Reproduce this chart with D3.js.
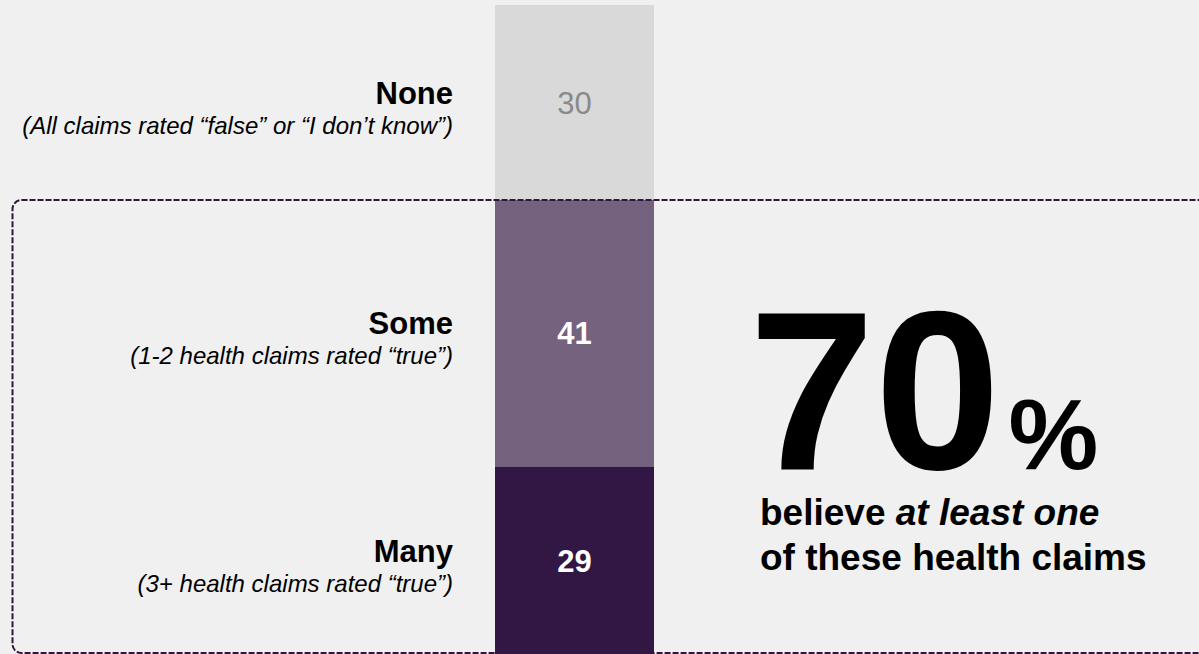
<!DOCTYPE html>
<html>
<head>
<meta charset="utf-8">
<script src="https://cdn.jsdelivr.net/npm/d3@7"></script>
<style>
  html, body { margin: 0; padding: 0; background: #f0f0f0; }
  svg { display: block; }
  text { font-family: "Liberation Sans", Arial, sans-serif; }
</style>
</head>
<body>
<svg id="chart" width="1199" height="654"></svg>
<script>
const categories = ["None", "Some", "Many"];
const subtitles = [
  "(All claims rated \u201cfalse\u201d or \u201cI don\u2019t know\u201d)",
  "(1-2 health claims rated \u201ctrue\u201d)",
  "(3+ health claims rated \u201ctrue\u201d)"
];
const values = [30, 41, 29];
const colors = ["#d9d9d9", "#75627f", "#321644"];
const valueColors = ["#8a8a8a", "#ffffff", "#ffffff"];
const valueWeights = ["normal", "bold", "bold"];
const bigNumber = "70";
const bigLine1 = ["believe ", "at least one"];
const bigLine2 = "of these health claims";

const W = 1199, H = 654;
const svg = d3.select("#chart");

const total = d3.sum(values);
const y = d3.scaleLinear().domain([0, total]).range([5, 655]);
const x = d3.scaleBand().domain(["all"]).range([495, 654]).padding(0);

let cum = 0;
const segs = values.map((v, i) => {
  const s = { cat: categories[i], sub: subtitles[i], v, y0: cum, y1: cum + v, i };
  cum += v;
  return s;
});

// bars
svg.selectAll("rect.seg").data(segs).join("rect")
  .attr("class", "seg")
  .attr("x", x("all"))
  .attr("width", x.bandwidth())
  .attr("y", d => y(d.y0))
  .attr("height", d => y(d.y1) - y(d.y0))
  .attr("fill", d => colors[d.i]);

// dashed rounded box around the "believe" segments
const boxTop = y(values[0]);
svg.append("rect")
  .attr("x", 12.5)
  .attr("y", boxTop)
  .attr("width", W + 20)
  .attr("height", 653 - boxTop)
  .attr("rx", 9)
  .attr("fill", "none")
  .attr("stroke", "#32163f")
  .attr("stroke-width", 2)
  .attr("stroke-dasharray", "6,2");

// value labels
svg.selectAll("text.val").data(segs).join("text")
  .attr("class", "val")
  .attr("x", x("all") + x.bandwidth() / 2)
  .attr("y", d => (y(d.y0) + y(d.y1)) / 2 + 11)
  .attr("text-anchor", "middle")
  .attr("font-size", 31)
  .attr("font-weight", d => valueWeights[d.i])
  .attr("fill", d => valueColors[d.i])
  .text(d => d.v);

// category labels
svg.selectAll("text.cat").data(segs).join("text")
  .attr("class", "cat")
  .attr("x", 453)
  .attr("y", d => (y(d.y0) + y(d.y1)) / 2 + 1)
  .attr("text-anchor", "end")
  .attr("font-size", 31)
  .attr("font-weight", "bold")
  .attr("fill", "#000")
  .text(d => d.cat);

svg.selectAll("text.sub").data(segs).join("text")
  .attr("class", "sub")
  .attr("x", 453)
  .attr("y", d => (y(d.y0) + y(d.y1)) / 2 + 31)
  .attr("text-anchor", "end")
  .attr("font-size", 24)
  .attr("font-style", "italic")
  .attr("fill", "#000")
  .text(d => d.sub);

// big callout
const big = svg.append("text")
  .attr("x", 749)
  .attr("y", 469)
  .attr("font-weight", "bold")
  .attr("fill", "#000");
big.append("tspan").attr("font-size", 226).text(bigNumber);
big.append("tspan").attr("font-size", 101).attr("dx", 8).text("%");

const l1 = svg.append("text")
  .attr("x", 760).attr("y", 525)
  .attr("font-size", 37).attr("font-weight", "bold").attr("fill", "#000");
l1.append("tspan").text(bigLine1[0]);
l1.append("tspan").attr("font-style", "italic").text(bigLine1[1]);

svg.append("text")
  .attr("x", 760).attr("y", 570)
  .attr("font-size", 37).attr("font-weight", "bold").attr("fill", "#000")
  .text(bigLine2);
</script>
</body>
</html>
